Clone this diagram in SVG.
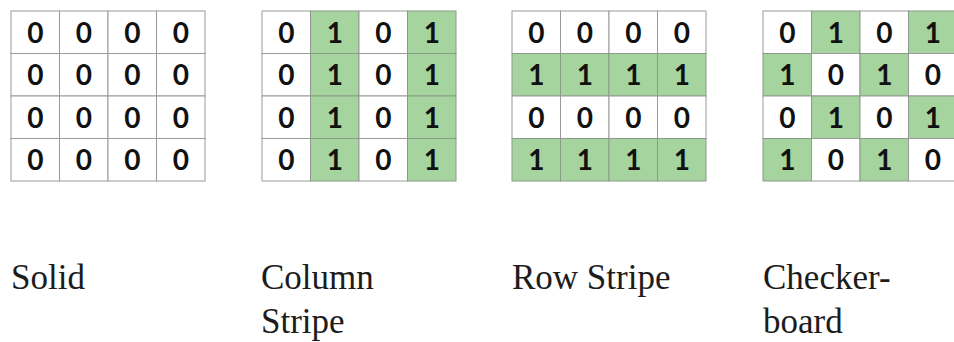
<svg xmlns="http://www.w3.org/2000/svg" width="954" height="342" viewBox="0 0 954 342">
<style>
.w{fill:#ffffff;stroke:#9a9a9a;stroke-width:1}
.g{fill:#a6d49e;stroke:#8a9a88;stroke-width:1}
.d{font-family:Lato,"Liberation Sans",sans-serif;font-weight:700;font-size:28px;fill:#111;text-anchor:middle}
.lb{font-family:"Liberation Serif","Times New Roman",serif;font-size:35px;fill:#1c1c1c}
</style>
<defs>
<g id="z"><rect class="w" width="48.5" height="42.5"/><text class="d" x="24.25" y="31.5">0</text></g>
<g id="o"><rect class="g" width="48.5" height="42.5"/><text class="d" x="24.25" y="31.5">1</text></g>
</defs>
<rect width="954" height="342" fill="#fff"/>
<g id="solid">
<use href="#z" x="11" y="11"/><use href="#z" x="59.5" y="11"/><use href="#z" x="108" y="11"/><use href="#z" x="156.5" y="11"/>
<use href="#z" x="11" y="53.5"/><use href="#z" x="59.5" y="53.5"/><use href="#z" x="108" y="53.5"/><use href="#z" x="156.5" y="53.5"/>
<use href="#z" x="11" y="96"/><use href="#z" x="59.5" y="96"/><use href="#z" x="108" y="96"/><use href="#z" x="156.5" y="96"/>
<use href="#z" x="11" y="138.5"/><use href="#z" x="59.5" y="138.5"/><use href="#z" x="108" y="138.5"/><use href="#z" x="156.5" y="138.5"/>
<text class="lb" x="11" y="289">Solid</text>
</g>
<g id="column-stripe">
<use href="#z" x="262" y="11"/><use href="#o" x="310.5" y="11"/><use href="#z" x="359" y="11"/><use href="#o" x="407.5" y="11"/>
<use href="#z" x="262" y="53.5"/><use href="#o" x="310.5" y="53.5"/><use href="#z" x="359" y="53.5"/><use href="#o" x="407.5" y="53.5"/>
<use href="#z" x="262" y="96"/><use href="#o" x="310.5" y="96"/><use href="#z" x="359" y="96"/><use href="#o" x="407.5" y="96"/>
<use href="#z" x="262" y="138.5"/><use href="#o" x="310.5" y="138.5"/><use href="#z" x="359" y="138.5"/><use href="#o" x="407.5" y="138.5"/>
<text class="lb" x="261" y="289">Column</text>
<text class="lb" x="261" y="333">Stripe</text>
</g>
<g id="row-stripe">
<use href="#z" x="512" y="11"/><use href="#z" x="560.5" y="11"/><use href="#z" x="609" y="11"/><use href="#z" x="657.5" y="11"/>
<use href="#o" x="512" y="53.5"/><use href="#o" x="560.5" y="53.5"/><use href="#o" x="609" y="53.5"/><use href="#o" x="657.5" y="53.5"/>
<use href="#z" x="512" y="96"/><use href="#z" x="560.5" y="96"/><use href="#z" x="609" y="96"/><use href="#z" x="657.5" y="96"/>
<use href="#o" x="512" y="138.5"/><use href="#o" x="560.5" y="138.5"/><use href="#o" x="609" y="138.5"/><use href="#o" x="657.5" y="138.5"/>
<text class="lb" x="512" y="289">Row Stripe</text>
</g>
<g id="checkerboard">
<use href="#z" x="763" y="11"/><use href="#o" x="811.5" y="11"/><use href="#z" x="860" y="11"/><use href="#o" x="908.5" y="11"/>
<use href="#o" x="763" y="53.5"/><use href="#z" x="811.5" y="53.5"/><use href="#o" x="860" y="53.5"/><use href="#z" x="908.5" y="53.5"/>
<use href="#z" x="763" y="96"/><use href="#o" x="811.5" y="96"/><use href="#z" x="860" y="96"/><use href="#o" x="908.5" y="96"/>
<use href="#o" x="763" y="138.5"/><use href="#z" x="811.5" y="138.5"/><use href="#o" x="860" y="138.5"/><use href="#z" x="908.5" y="138.5"/>
<text class="lb" x="763" y="289">Checker-</text>
<text class="lb" x="763" y="333">board</text>
</g>
</svg>
